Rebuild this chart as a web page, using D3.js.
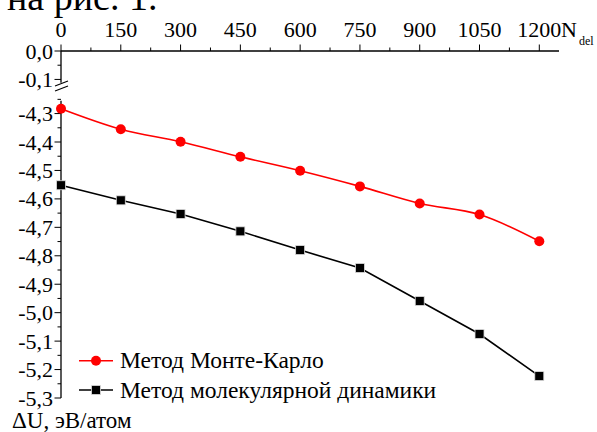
<!DOCTYPE html>
<html><head><meta charset="utf-8">
<script src="https://cdn.jsdelivr.net/npm/d3@7"></script>
</head><body>
<script>
const nDel = [0,150,300,450,600,750,900,1050,1200];
const monteCarlo = [-4.283,-4.355,-4.399,-4.452,-4.501,-4.556,-4.616,-4.655,-4.749];
const molDyn = [-4.552,-4.605,-4.653,-4.714,-4.780,-4.843,-4.959,-5.075,-5.223];
const xTicks = [0,150,300,450,600,750,900,1050,1200];
const yTopTicks = [0,-0.1];
const yBotTicks = [-4.3,-4.4,-4.5,-4.6,-4.7,-4.8,-4.9,-5.0,-5.1,-5.2,-5.3];
const seriesNames = ["Метод Монте-Карло","Метод молекулярной динамики"];

d3.select("body").style("margin","0").style("background","#fff");
const W=597,H=432;
const FF="Liberation Serif";
const svg=d3.select("body").append("svg").attr("width",W).attr("height",H).style("display","block");
const fmt=d=>d3.format(".1f")(d).replace(".",",").replace("−","-");

const x=d3.scaleLinear().domain([0,1200]).range([61,539.3]);
const yTop=d3.scaleLinear().domain([0,-0.115]).range([51,83.7]);
const yBot=d3.scaleLinear().domain([-4.24,-5.3]).range([96.5,398]);

function txt(sel,size){return sel.append("text").style("font-family",FF).attr("font-size",size).attr("fill","#000");}

// top fragment text
txt(svg,38).attr("x",7).attr("y",10).text("на рис. 1.");

// x axis (top)
svg.append("line").attr("x1",61).attr("x2",559).attr("y1",51).attr("y2",51).attr("stroke","#000").attr("stroke-width",1.3);
const xMinor=d3.range(75,1250,150);
xMinor.forEach(d=>svg.append("line").attr("x1",x(d)).attr("x2",x(d)).attr("y1",51).attr("y2",47.5).attr("stroke","#000"));
xTicks.forEach(d=>{
  svg.append("line").attr("x1",x(d)).attr("x2",x(d)).attr("y1",51).attr("y2",44.5).attr("stroke","#000");
  txt(svg,22).attr("x",x(d)).attr("y",37).attr("text-anchor","middle").text(d);
});
txt(svg,22).attr("x",561).attr("y",37).text("N");
txt(svg,12).attr("x",579).attr("y",45).text("del");

// y axis
const ax=61;
svg.append("line").attr("x1",ax).attr("x2",ax).attr("y1",51).attr("y2",yTop(-0.112)).attr("stroke","#000").attr("stroke-width",1.3);
svg.append("line").attr("x1",ax).attr("x2",ax).attr("y1",yBot(-4.255)).attr("y2",398).attr("stroke","#000").attr("stroke-width",1.3);
[0,5].forEach(o=>{
  svg.append("line").attr("x1",55).attr("x2",68).attr("y1",86+o).attr("y2",81+o).attr("stroke","#000").attr("stroke-width",1.1);
});
function yTicks(scale,major,minor){
  minor.forEach(d=>svg.append("line").attr("x1",ax-3.5).attr("x2",ax).attr("y1",scale(d)).attr("y2",scale(d)).attr("stroke","#000"));
  major.forEach(d=>{
    svg.append("line").attr("x1",ax-6.5).attr("x2",ax).attr("y1",scale(d)).attr("y2",scale(d)).attr("stroke","#000");
    txt(svg,22).attr("x",ax-8).attr("y",scale(d)+7.5).attr("text-anchor","end").text(fmt(d));
  });
}
yTicks(yTop,yTopTicks,[-0.05]);
yTicks(yBot,yBotTicks,d3.range(-4.25,-5.3,-0.1));

txt(svg,23).attr("x",12).attr("y",428).text("ΔU, эВ/атом");

// series
const mc=nDel.map((d,i)=>[d,monteCarlo[i]]);
const md=nDel.map((d,i)=>[d,molDyn[i]]);
svg.append("path").datum(mc).attr("d",d3.line().x(d=>x(d[0])).y(d=>yBot(d[1])).curve(d3.curveCatmullRom)).attr("fill","none").attr("stroke","#ff0000").attr("stroke-width",1.6);
svg.append("path").datum(md).attr("d",d3.line().x(d=>x(d[0])).y(d=>yBot(d[1]))).attr("fill","none").attr("stroke","#000").attr("stroke-width",1.6);
svg.selectAll(".c").data(mc).enter().append("circle").attr("cx",d=>x(d[0])).attr("cy",d=>yBot(d[1])).attr("r",5).attr("fill","#ff0000");
svg.selectAll(".s").data(md).enter().append("rect").attr("x",d=>x(d[0])-4.5).attr("y",d=>yBot(d[1])-4.5).attr("width",9).attr("height",9).attr("fill","#000").attr("stroke","#ddd").attr("stroke-width",0.8);

// legend
const lg=[{y:360.7,c:"#ff0000",m:"circle"},{y:390,c:"#000",m:"rect"}];
lg.forEach((l,i)=>{
  svg.append("line").attr("x1",79).attr("x2",113).attr("y1",l.y).attr("y2",l.y).attr("stroke",l.c).attr("stroke-width",1.6);
  if(l.m==="circle") svg.append("circle").attr("cx",96).attr("cy",l.y).attr("r",5).attr("fill",l.c);
  else svg.append("rect").attr("x",91.5).attr("y",l.y-4.5).attr("width",9).attr("height",9).attr("fill",l.c).attr("stroke","#ddd").attr("stroke-width",0.8);
  txt(svg,23.5).attr("x",120).attr("y",l.y+7.5).text(seriesNames[i]);
});
</script>
</body></html>
